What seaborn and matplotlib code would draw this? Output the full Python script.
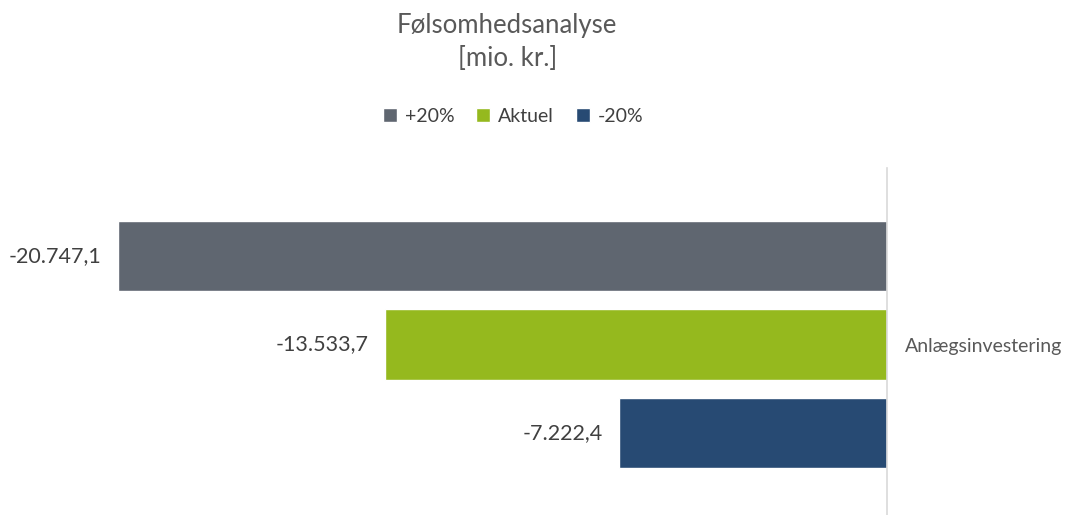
import matplotlib
matplotlib.use("Agg")
import matplotlib.pyplot as plt
from matplotlib.patches import Patch
import pandas as pd
import seaborn as sns

sns.set_theme(style="white")
plt.rcParams['font.family'] = ['Lato', 'DejaVu Sans']

categories = ["Anlægsinvestering"]
scenarios = ["+20%", "Aktuel", "-20%"]
values = [-20747.1, -13533.7, -7222.4]
colors = ["#5f6670", "#95b91e", "#274a73"]

df = pd.DataFrame({
    "Kategori": categories * len(scenarios),
    "Scenarie": scenarios,
    "Værdi": values,
})


def dk_fmt(v):
    s = f"{v:,.1f}"
    return s.replace(",", "X").replace(".", ",").replace("X", ".")


fig = plt.figure(figsize=(10.68, 5.15), dpi=100)
ax = fig.add_axes([0, 0, 1, (515 - 168) / 515])

sns.barplot(data=df, y="Kategori", x="Værdi", hue="Scenarie", hue_order=scenarios,
            palette=colors, width=0.8, gap=0.2, orient="h", legend=False, ax=ax,
            saturation=1, err_kws={"linewidth": 0})

px_per_unit = 769 / 20747.1
ax.set_xlim(-887 / px_per_unit, (1068 - 887) / px_per_unit)
ax.set_ylim(0.5137, -0.5318)

for c in ax.containers:
    ax.bar_label(c, labels=[dk_fmt(b.get_width()) for b in c], padding=12,
                 fontsize=15.5, color="#404040")

for s in ["left", "top", "bottom"]:
    ax.spines[s].set_visible(False)
ax.spines["right"].set_position(("data", 0))
ax.spines["right"].set_color("#d9d9d9")
ax.spines["right"].set_linewidth(1.2)
ax.set_xticks([])
ax.yaxis.tick_right()
ax.tick_params(axis="y", length=0, pad=13, labelsize=14, labelcolor="#595959")
ax.set_xlabel("")
ax.set_ylabel("")

fig.text(507 / 1068, 1 - 25 / 515, "Følsomhedsanalyse", ha="center", va="center",
         fontsize=18.5, color="#595959")
fig.text(508 / 1068, 1 - 58 / 515, "[mio. kr.]", ha="center", va="center",
         fontsize=18.5, color="#595959")

handles = [Patch(facecolor=c, label=s) for c, s in zip(colors, scenarios)]
fig.legend(handles=handles, loc="center", bbox_to_anchor=(513 / 1068, 1 - 116 / 515),
           ncol=3, frameon=False, fontsize=14, handlelength=0.75, handleheight=0.75,
           handletextpad=0.4, columnspacing=1.1, labelcolor="#404040")

fig.savefig("out.png", dpi=100)
